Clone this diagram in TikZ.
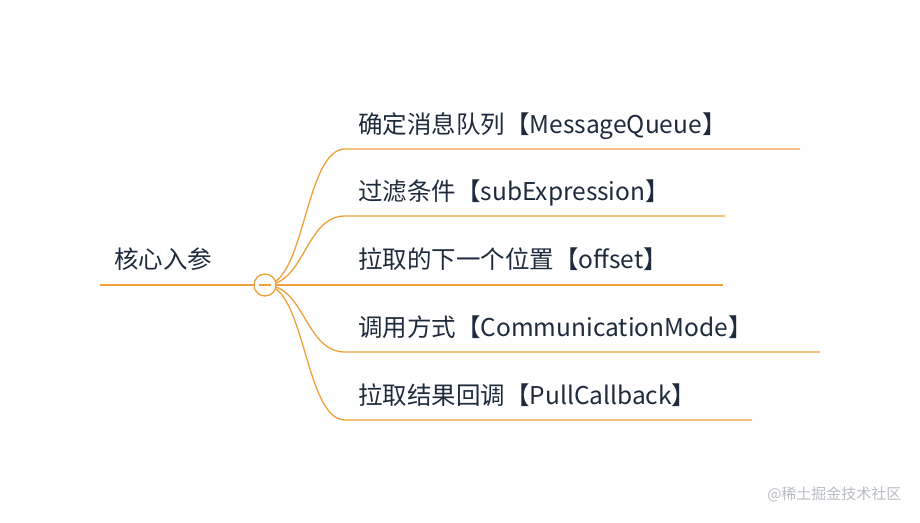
\documentclass[tikz,border=0pt]{standalone}
\usepackage{fontspec}
\setmainfont{Noto Sans CJK SC}
\newfontfamily\cjk{Noto Sans CJK SC}
\definecolor{branchorange}{HTML}{EFA03A}
\definecolor{textnavy}{HTML}{1E2B3C}
\definecolor{markgray}{HTML}{B8BCC2}
\tikzset{
  topic/.style = {anchor = base west, inner sep = 0pt, text = textnavy,
                  font = \cjk\fontsize{24.5}{24.5}\selectfont},
  stem/.style  = {draw = branchorange, line width = 1.3pt},
}

\begin{document}
\begin{tikzpicture}[x = 1pt, y = -1pt]
\useasboundingbox (0, 0) rectangle (920, 522);

% root
\node [topic] (root) at (114, 268) {核心入参};
\coordinate (rootL) at (100, 285);
\coordinate (hub) at (265, 285);
\draw [stem] (rootL) -- (hub);

% branches
\coordinate (b1) at (345, 149);
\coordinate (b2) at (345, 216);
\coordinate (b3) at (345, 285);
\coordinate (b4) at (345, 352);
\coordinate (b5) at (345, 420);
\coordinate (e1) at (800, 149);
\coordinate (e2) at (725, 216);
\coordinate (e3) at (723, 285);
\coordinate (e4) at (820, 352);
\coordinate (e5) at (752, 420);

\draw [stem] (hub) .. controls (305, 285) and (305, 149) .. (b1) -- (e1);
\draw [stem] (hub) .. controls (305, 285) and (305, 216) .. (b2) -- (e2);
\draw [stem] (hub) -- (b3) -- (e3);
\draw [stem] (hub) .. controls (305, 285) and (305, 352) .. (b4) -- (e4);
\draw [stem] (hub) .. controls (305, 285) and (305, 420) .. (b5) -- (e5);

\node [topic] (t1) at (358, 133) {确定消息队列【MessageQueue】};
\node [topic] (t2) at (358, 200) {过滤条件【subExpression】};
\node [topic] (t3) at (358, 268) {拉取的下一个位置【offset】};
\node [topic] (t4) at (358, 336) {调用方式【CommunicationMode】};
\node [topic] (t5) at (358, 404) {拉取结果回调【PullCallback】};

% collapse button
\filldraw [draw = branchorange, fill = white, line width = 1.3pt]
    (hub) circle (11);
\draw [branchorange, line width = 1.3pt] (259, 285) -- (271, 285);

\node [anchor = east, text = markgray, font = \cjk\fontsize{15}{15}\selectfont]
    (mark) at (905, 494) {@稀土掘金技术社区};
\end{tikzpicture}
\end{document}
